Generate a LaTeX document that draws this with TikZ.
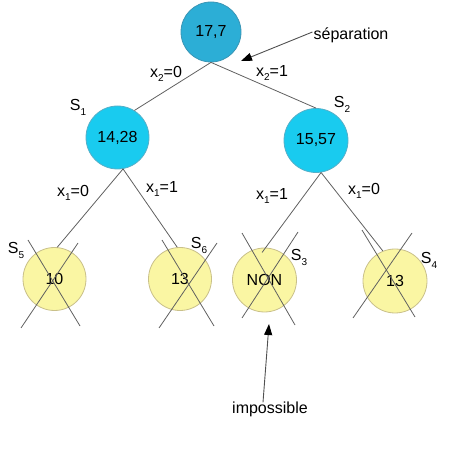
\documentclass[tikz,border=0pt]{standalone}
\usepackage{fontspec}
\setmainfont{Liberation Sans}
\usetikzlibrary{arrows.meta,calc}
\newcommand\lsub[1]{\raisebox{-4pt}{\fontsize{10}{10}\selectfont #1}}
\newcommand\ssub[1]{\raisebox{-5pt}{\fontsize{10}{10}\selectfont #1}}
\definecolor{topfill}{HTML}{2CAED6}
\definecolor{topdraw}{HTML}{3A95B5}
\definecolor{midfill}{HTML}{19CBEF}
\definecolor{middraw}{HTML}{55AFC8}
\definecolor{leaffill}{HTML}{FAF6A3}
\definecolor{leafdraw}{HTML}{C9C08A}
\definecolor{edgecol}{HTML}{606060}
\definecolor{arrowcol}{HTML}{505050}
\begin{document}
\begin{tikzpicture}[x=1pt,y=-1pt,
  every node/.style={font=\fontsize{16}{19}\selectfont},
  topnode/.style={circle,draw=topdraw,fill=topfill,minimum size=60pt,inner sep=0pt,line width=0.8pt},
  midnode/.style={circle,draw=middraw,fill=midfill,minimum size=63pt,inner sep=0pt,line width=0.8pt},
  leafnode/.style={circle,draw=leafdraw,fill=leaffill,minimum size=63pt,inner sep=0pt,line width=0.8pt},
  edgeline/.style={draw=edgecol,line width=0.8pt},
  crossline/.style={draw=edgecol,line width=0.8pt},
  lbl/.style={inner sep=0pt},
  pointer/.style={draw=arrowcol,line width=0.9pt,-{Triangle[length=11pt,width=8pt,color=black]}}]
\useasboundingbox (0,0) rectangle (474,454);

% nodes
\node[topnode] (t) at (211,32) {17,7};
\node[midnode] (s1) at (117.5,137.5) {14,28};
\node[midnode,minimum size=64pt] (s2) at (316,140.5) {15,57};
\node[leafnode] (l5) at (54.5,279) {10};
\node[leafnode] (l6) at (180,279) {13};
\node[leafnode,minimum size=64pt] (l3) at (264.5,280) {NON};
\node[leafnode,minimum size=64pt] (l4) at (395,281) {13};

% edges
\draw[edgeline] (t.south) -- (s1.58);
\draw[edgeline] (t.south) -- (s2.north);
\draw[edgeline] (s1.280) -- (l5.85);
\draw[edgeline] (s1.280) -- (l6.95);
\draw[edgeline,shorten >=-6pt] (s2.279) -- (l3.88);
\draw[edgeline] (s2.279) -- (l4.112);

% crosses
\draw[crossline] ($(l5)+(-26.5,-39)$) -- ($(l5)+(25.5,47)$);
\draw[crossline] ($(l5)+(23.5,-36)$) -- ($(l5)+(-33.5,49)$);
\draw[crossline] ($(l6)+(-18,-39)$) -- ($(l6)+(34,47)$);
\draw[crossline] ($(l6)+(37,-36)$) -- ($(l6)+(-21,49)$);
\draw[crossline] ($(l3)+(-22.5,-47)$) -- ($(l3)+(30.5,45)$);
\draw[crossline] ($(l3)+(33.5,-48)$) -- ($(l3)+(-22.5,38)$);
\draw[crossline] ($(l4)+(-33,-51)$) -- ($(l4)+(20,36)$);
\draw[crossline] ($(l4)+(17,-48)$) -- ($(l4)+(-42,37)$);

% labels
\node[lbl] (e1) at (166,74) {x\lsub{2}=0};
\node[lbl] (e2) at (272,73) {x\lsub{2}=1};
\node[lbl] (e3) at (73,193) {x\lsub{1}=0};
\node[lbl] (e4) at (162,189) {x\lsub{1}=1};
\node[lbl] (e5) at (272,196) {x\lsub{1}=1};
\node[lbl] (e6) at (364,191) {x\lsub{1}=0};
\node[lbl] (n1) at (78,107) {S\ssub{1}};
\node[lbl] (n2) at (342,104) {S\ssub{2}};
\node[lbl] (n5) at (16,250) {S\ssub{5}};
\node[lbl] (n6) at (199,245) {S\ssub{6}};
\node[lbl] (n3) at (299,257) {S\ssub{3}};
\node[lbl] (n4) at (429,260) {S\ssub{4}};

% annotations
\node[lbl] (sep) at (351,35) {séparation};
\coordinate (septip) at (241,61);
\draw[pointer] ([xshift=-1pt,yshift=3pt]sep.west) -- (septip);
\node[lbl] (imp) at (270,409) {impossible};
\coordinate (imptip) at (269,324);
\draw[pointer] ([xshift=-7pt,yshift=-1pt]imp.north) -- (imptip);
\end{tikzpicture}
\end{document}
